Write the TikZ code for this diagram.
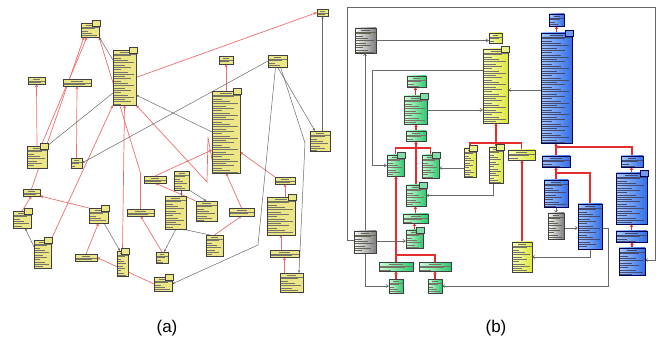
\documentclass[tikz,border=0pt]{standalone}
\usepackage{fontspec}
\setmainfont{Liberation Sans}
\usepackage{xcolor}
\usepackage{tikz}
\usetikzlibrary{arrows.meta, backgrounds}

\definecolor{aYel}{RGB}{236,230,135}
\definecolor{aRed}{RGB}{238,110,110}
\definecolor{lnGray}{RGB}{105,105,105}
\definecolor{bYelL}{RGB}{250,255,190}
\definecolor{bYelD}{RGB}{222,232,60}
\definecolor{bGrnL}{RGB}{205,255,215}
\definecolor{bGrnD}{RGB}{45,200,110}
\definecolor{bBluL}{RGB}{165,200,255}
\definecolor{bBluD}{RGB}{50,110,230}
\definecolor{bGryL}{RGB}{250,250,250}
\definecolor{bGryD}{RGB}{125,125,125}
\definecolor{bRed}{RGB}{228,45,45}
\definecolor{txtDark}{RGB}{60,60,40}
\definecolor{txtBlue}{RGB}{20,30,80}

% tiny unreadable class text, drawn as strokes
\tikzset{
  txtlines/.style={path picture={
    \pgfpointdiff{\pgfpointanchor{path picture bounding box}{south west}}{\pgfpointanchor{path picture bounding box}{north east}}
    \pgfgetlastxy{\bw}{\bh}
    \pgfmathsetmacro{\tw}{0.2*\bw}
    \pgfmathtruncatemacro{\nl}{max(0,(\bh-6)/2.3)}
    \draw[draw=#1, line width=0.6pt] ([xshift=-\tw pt,yshift=-2pt]path picture bounding box.north) -- ([xshift=\tw pt,yshift=-2pt]path picture bounding box.north);
    \draw[draw=#1, line width=0.3pt] ([yshift=-4pt]path picture bounding box.north west) -- ([yshift=-4pt]path picture bounding box.north east);
    \foreach \k in {0,...,\nl} {
      \pgfmathsetmacro{\len}{(0.35+0.6*mod(\k*7+3,5)/4)*(\bw-2.4)}
      \draw[draw=#1, line width=0.32pt] ([xshift=1.2pt,yshift={-5.6pt-2.3pt*\k}]path picture bounding box.north west) -- ++(\len pt,0pt);
    }
  }},
}

\begin{document}
\begin{tikzpicture}[
    x=1pt, y=-1pt,
    every node/.style={inner sep=0pt, outer sep=0pt},
    cls/.style={draw=black!75, line width=0.4pt, anchor=north west},
    sz/.style 2 args={minimum width=#1, minimum height=#2},
    acls/.style={cls, fill=aYel, txtlines=txtDark!70},
    ycls/.style={cls, left color=bYelL, right color=bYelD, txtlines=txtDark!70},
    gcls/.style={cls, left color=bGrnL, right color=bGrnD, txtlines=txtDark!70},
    bcls/.style={cls, draw=blue!35!black, left color=bBluL, right color=bBluD, txtlines=txtBlue!80},
    kcls/.style={cls, left color=bGryL, right color=bGryD, txtlines=txtDark!80},
    tabA/.style={draw=black!75, fill=aYel, line width=0.3pt},
    tabY/.style={draw=black!75, fill=bYelD!60, line width=0.3pt},
    tabG/.style={draw=black!75, fill=bGrnD!60, line width=0.3pt},
    tabB/.style={draw=blue!35!black, fill=bBluD!70, line width=0.3pt},
    genA/.style={draw=aRed, line width=0.7pt, -{Triangle[open, length=3pt, width=3pt]}},
    asoA/.style={draw=lnGray, line width=0.5pt, -{Stealth[length=3pt, width=2.2pt]}},
    genB/.style={draw=bRed, line width=1.1pt, -{Triangle[open, length=3pt, width=3.2pt]}},
    barB/.style={draw=bRed, line width=1.1pt},
    asoB/.style={draw=lnGray, line width=0.6pt, -{Straight Barb[length=2.5pt, width=3pt]}},
    caption/.style={font=\fontsize{17}{20}\selectfont}
]
\useasboundingbox (0,0) rectangle (662,342);

% ---- (a) flat layout ----
\node[acls, sz={18}{14}] (a1) at (81,23) {};
\node[acls, sz={23}{55}] (a2) at (113,50) {};
\node[acls, sz={11}{7}] (a3) at (317,9) {};
\node[acls, sz={17}{7}] (a4) at (28,77) {};
\node[acls, sz={28}{7}] (a5) at (63,79) {};
\node[acls, sz={14}{8}] (a6) at (219,56) {};
\node[acls, sz={19}{12}] (a7) at (268,55) {};
\node[acls, sz={28}{82}] (a8) at (212,91) {};
\node[acls, sz={20}{20}] (a9) at (310,131) {};
\node[acls, sz={20}{22}] (a10) at (27,146) {};
\node[acls, sz={11}{10}] (a11) at (71,158) {};
\node[acls, sz={17}{7}] (a12) at (23,189) {};
\node[acls, sz={18}{17}] (a13) at (13,211) {};
\node[acls, sz={17}{28}] (a14) at (34,240) {};
\node[acls, sz={19}{15}] (a15) at (89,208) {};
\node[acls, sz={22}{7}] (a16) at (75,254) {};
\node[acls, sz={11}{25}] (a17) at (117,251) {};
\node[acls, sz={27}{7}] (a18) at (127,209) {};
\node[acls, sz={22}{7}] (a19) at (144,176) {};
\node[acls, sz={15}{19}] (a20) at (174,171) {};
\node[acls, sz={21}{33}] (a21) at (165,196) {};
\node[acls, sz={21}{20}] (a22) at (196,201) {};
\node[acls, sz={25}{8}] (a23) at (229,208) {};
\node[acls, sz={12}{11}] (a24) at (156,252) {};
\node[acls, sz={17}{21}] (a25) at (206,235) {};
\node[acls, sz={18}{14}] (a26) at (154,277) {};
\node[acls, sz={20}{7}] (a27) at (275,177) {};
\node[acls, sz={28}{38}] (a28) at (267,197) {};
\node[acls, sz={29}{7}] (a29) at (270,250) {};
\node[acls, sz={23}{19}] (a30) at (280,273) {};

\foreach \n in {a1,a2,a8,a10,a13,a14,a15,a17,a26,a28}
  \draw[tabA] ([xshift=-7pt,yshift=3pt]\n.north east) rectangle ([xshift=1pt,yshift=-3pt]\n.north east);

\begin{scope}[on background layer]
% generalizations
\draw[genA] (a10.north) -- (a4.south);
\draw[genA] (a12.north) -- ([xshift=3pt]a1.south west);
\draw[genA] ([xshift=-6pt]a10.north east) -- ([xshift=6pt]a1.south west);
\draw[genA] (a11.north) -- (a5.south);
\draw[genA] (a17.north) -- (a2.south);
\draw[genA] (a14.north east) -- (a2.south west);
\draw[genA] (a18.north) -- ++(0,-36) -- (a1.south east);
\draw[genA] (a2.east) -- (a3.west);
\draw[genA] (a8.north) -- (a6.south);
\draw[genA] (a19.north) -- ([yshift=-18pt]a8.west);
\draw[genA] ([yshift=-28pt]a8.west) -- ++(-4,-23) -- ++(-1,45) -- (a2.south east);
\draw[genA] (a23.north) -- (a8.south);
\draw[genA] (a25.north) -- (a23.south);
\draw[genA] (a22.north west) -- (a19.south);
\draw[genA] (a24.north) -- (a18.south);
\draw[genA] (a27.north west) -- ([yshift=-20pt]a8.east);
\draw[genA] (a27.south |- a28.north) -- (a27.south);
\draw[genA] (a28.south |- a29.north) -- (a28.south);
\draw[genA] (a29.south |- a30.north) -- (a29.south);
\draw[genA] (a15.north west) -- (a12.south east);
\draw[genA] (a13.north) -- (a12.south);
\draw[genA] (a16.north) -- (a15.south);
\draw[genA] (a26.west) -- (a16.east);
% associations
\draw[asoA] ([yshift=-10pt]a2.north west) -- (a1.south east);
\draw[asoA] ([yshift=-43pt]a2.north west) -- (a10.north east);
\draw[asoA] ([yshift=-41pt]a8.north west) -- ([yshift=-45pt]a2.north east);
\draw[asoA] (a7.west) -- (a11.east);
\draw[asoA] (a7.south) -- ([xshift=5pt]a9.north west);
\draw[asoA] (a3.south |- a9.north) -- (a3.south);
\draw[asoA] ([xshift=3pt]a7.south) -- ++(24.5,76) -- ([xshift=-4pt]a30.north east);
\draw[asoA] ([xshift=-2pt]a7.south) -- ++(-17.5,178) -- (a26.east);
\draw[asoA] (a20.south) -- (a21.north -| a20.south);
\draw[asoA] (a20.south east) -- (a22.north);
\draw[asoA] ([xshift=-10pt]a21.south east) -- ([xshift=2pt]a24.north);
\draw[asoA] ([xshift=4pt]a25.north west) -- ([xshift=-4pt]a21.south east);
\draw[asoA] ([xshift=-4pt]a15.south east) -- ([xshift=3pt]a17.north west);
\draw[asoA] ([yshift=-7pt]a14.north west) -- ([xshift=-6pt]a13.south east);
\end{scope}

% ---- (b) layered layout ----
\node[kcls, sz={21}{25}] (b1) at (355,28) {};
\node[ycls, sz={13}{10}] (b2) at (489,33) {};
\node[ycls, sz={25}{74}] (b3) at (483,49) {};
\node[bcls, sz={15}{12}] (b4) at (549,14) {};
\node[bcls, sz={31}{110}] (b5) at (541,33) {};
\node[gcls, sz={19}{11}] (b6) at (407,76) {};
\node[gcls, sz={23}{28}] (b7) at (404,96) {};
\node[gcls, sz={20}{10}] (b8) at (406,131) {};
\node[gcls, sz={17}{21}] (b9) at (387,155) {};
\node[gcls, sz={17}{23}] (b10) at (422,155) {};
\node[ycls, sz={12}{29}] (b11) at (464,148) {};
\node[ycls, sz={14}{36}] (b12) at (489,147) {};
\node[ycls, sz={27}{10}] (b13) at (508,150) {};
\node[gcls, sz={20}{21}] (b14) at (406,185) {};
\node[gcls, sz={25}{9}] (b15) at (403,214) {};
\node[gcls, sz={17}{18}] (b16) at (406,230) {};
\node[kcls, sz={22}{22}] (b17) at (354,231) {};
\node[gcls, sz={34}{9}] (b18) at (379,262) {};
\node[gcls, sz={32}{9}] (b19) at (419,262) {};
\node[gcls, sz={14}{14}] (b20) at (389,279) {};
\node[gcls, sz={14}{14}] (b21) at (428,279) {};
\node[ycls, sz={20}{30}] (b22) at (512,242) {};
\node[bcls, sz={28}{11}] (b23) at (542,156) {};
\node[bcls, sz={24}{27}] (b24) at (544,180) {};
\node[kcls, sz={16}{26}] (b25) at (548,213) {};
\node[bcls, sz={24}{45}] (b26) at (578,204) {};
\node[bcls, sz={22}{11}] (b27) at (621,156) {};
\node[bcls, sz={31}{51}] (b28) at (616,173) {};
\node[bcls, sz={31}{11}] (b29) at (616,231) {};
\node[bcls, sz={26}{27}] (b30) at (619,248) {};

\foreach \n in {b3,b11,b12}
  \draw[tabY] ([xshift=-7pt,yshift=3pt]\n.north east) rectangle ([xshift=1pt,yshift=-3pt]\n.north east);
\foreach \n in {b7,b9,b10,b14,b16}
  \draw[tabG] ([xshift=-7pt,yshift=3pt]\n.north east) rectangle ([xshift=1pt,yshift=-3pt]\n.north east);
\foreach \n in {b5,b28}
  \draw[tabB] ([xshift=-7pt,yshift=3pt]\n.north east) rectangle ([xshift=1pt,yshift=-3pt]\n.north east);

\begin{scope}[on background layer]
% generalizations
\draw[genB] (b7.north) -- (b7.north |- b6.south);
\draw[genB] (b8.north) -- (b8.north |- b7.south);
\draw[genB] (b14.north) -- (b14.north |- b8.south);
\draw[barB] (b9.north) -- ++(0,-7) -| (b10.north);
\draw[genB] (b18.north) -- (b18.north |- b9.south);
\draw[barB] (b19.north) -- ++(0,-7) -| (b18.north);
\draw[genB] (b15.north) -- (b15.north |- b14.south);
\draw[genB] (b16.north) -- (b16.north |- b15.south);
\draw[genB] (b20.north) -- (b20.north |- b18.south);
\draw[genB] (b21.north) -- (b21.north |- b19.south);
\draw[genB] (b12.north) -- (b12.north |- b3.south);
\draw[barB] (b11.north) -- ++(0,-5) -| (b13.north);
\draw[genB] (b22.north) -- (b22.north |- b13.south);
\draw[genB] (b5.north) -- (b5.north |- b4.south);
\draw[genB] (b23.north) -- (b23.north |- b5.south);
\draw[barB] (b27.north) -- ++(0,-9) -| (b23.north);
\draw[genB] (b24.north) -- (b24.north |- b23.south);
\draw[barB] (b26.north) -- ++(0,-31) -| (b24.north);
\draw[genB] (b28.north) -- (b28.north |- b27.south);
\draw[genB] (b29.north) -- (b29.north |- b28.south);
\draw[genB] (b30.north) -- (b30.north |- b29.south);
% associations
\draw[asoB] (b1.east) -- (b1.east -| b2.west);
\draw[asoB] (b17.north) -- (b17.north |- b1.south);
\draw[asoB] ([yshift=-21pt]b3.north west) -- ++(-111,0) |- (b9.west);
\draw[asoB] (b7.east) -- (b7.east -| b3.west);
\draw[asoB] ([yshift=-57pt]b5.north west) -- ([yshift=-57pt]b5.north west -| b3.east);
\draw[asoB] ([yshift=-20pt]b11.north west) -- ([yshift=-20pt]b11.north west -| b10.east);
\draw[asoB] ([xshift=-3pt]b12.south) |- (b14.east);
\draw[asoB] ([yshift=-10pt]b17.north east) -- ([yshift=-10pt]b17.north east -| b16.west);
\draw[asoB] (b17.south) |- (b20.west);
\draw[asoB] ([yshift=-24pt]b26.north east) -- ++(6,0) |- (b21.east);
\draw[asoB] ([xshift=-12pt]b26.south east) |- (b22.east);
\draw[asoB] ([yshift=-15pt]b25.north east) -- ([yshift=-15pt]b25.north east -| b26.west);
\draw[asoB] (b24.south) -- (b24.south |- b25.north);
\draw[asoB] ([yshift=-9pt]b17.north west) -- ++(-7,0) -- ++(0,-233) -- ++(308,0) |- ([yshift=-12pt]b30.north east);
\end{scope}

% captions
\node[caption] (capa) at (167,328) {(a)};
\node[caption] (capb) at (496,328) {(b)};

\end{tikzpicture}
\end{document}
